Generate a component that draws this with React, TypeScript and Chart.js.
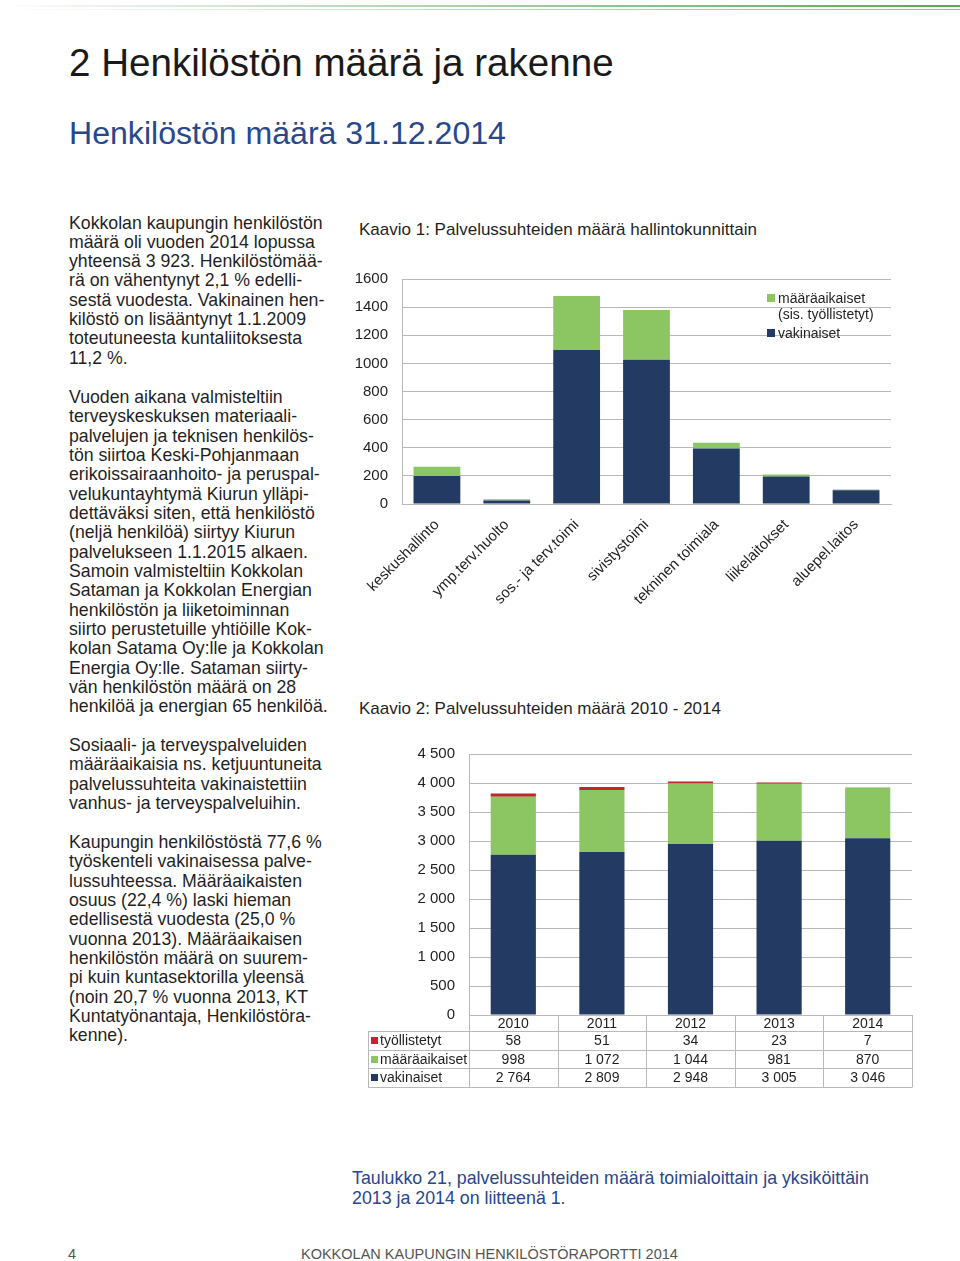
import React, { useEffect, useRef } from "react";
import { Chart, registerables } from "chart.js";

Chart.register(...registerables);

// ---------- Data ----------
const unitLabels = [
  "keskushallinto",
  "ymp.terv.huolto",
  "sos.- ja terv.toimi",
  "sivistystoimi",
  "tekninen toimiala",
  "liikelaitokset",
  "aluepel.laitos",
];
const unitFixedTerm = [65, 8, 385, 355, 40, 15, 5];
const unitPermanent = [200, 25, 1095, 1025, 395, 195, 98];
const unitAxisMax = 1600;
const unitAxisStep = 200;

const years = ["2010", "2011", "2012", "2013", "2014"];
const employed = [58, 51, 34, 23, 7];
const fixedTerm = [998, 1072, 1044, 981, 870];
const permanent = [2764, 2809, 2948, 3005, 3046];
const yearAxisMax = 4500;
const yearAxisStep = 500;

const seriesNames = {
  employed: "työllistetyt",
  fixedTerm: "määräaikaiset",
  fixedTermLegend1: "määräaikaiset",
  fixedTermLegend2: "(sis. työllistetyt)",
  permanent: "vakinaiset",
};

// ---------- Text ----------
const para1 = [
  "Kokkolan kaupungin henkilöstön",
  "määrä oli vuoden 2014 lopussa",
  "yhteensä 3 923. Henkilöstömää-",
  "rä on vähentynyt 2,1 % edelli-",
  "sestä vuodesta. Vakinainen hen-",
  "kilöstö on lisääntynyt 1.1.2009",
  "toteutuneesta kuntaliitoksesta",
  "11,2 %.",
];
const para2 = [
  "Vuoden aikana valmisteltiin",
  "terveyskeskuksen materiaali-",
  "palvelujen ja teknisen henkilös-",
  "tön siirtoa Keski-Pohjanmaan",
  "erikoissairaanhoito- ja peruspal-",
  "velukuntayhtymä Kiurun ylläpi-",
  "dettäväksi siten, että henkilöstö",
  "(neljä henkilöä) siirtyy Kiurun",
  "palvelukseen 1.1.2015 alkaen.",
  "Samoin valmisteltiin Kokkolan",
  "Sataman ja Kokkolan Energian",
  "henkilöstön ja liiketoiminnan",
  "siirto perustetuille yhtiöille Kok-",
  "kolan Satama Oy:lle ja Kokkolan",
  "Energia Oy:lle. Sataman siirty-",
  "vän henkilöstön määrä on 28",
  "henkilöä ja energian 65 henkilöä.",
];
const para3 = [
  "Sosiaali- ja terveyspalveluiden",
  "määräaikaisia ns. ketjuuntuneita",
  "palvelussuhteita vakinaistettiin",
  "vanhus- ja terveyspalveluihin.",
];
const para4 = [
  "Kaupungin henkilöstöstä 77,6 %",
  "työskenteli vakinaisessa palve-",
  "lussuhteessa. Määräaikaisten",
  "osuus (22,4 %) laski hieman",
  "edellisestä vuodesta (25,0 %",
  "vuonna 2013). Määräaikaisen",
  "henkilöstön määrä on suurem-",
  "pi kuin kuntasektorilla yleensä",
  "(noin 20,7 % vuonna 2013, KT",
  "Kuntatyönantaja, Henkilöstöra-",
  "kenne).",
];
const caption = [
  "Taulukko 21, palvelussuhteiden määrä toimialoittain ja yksiköittäin",
  "2013 ja 2014 on liitteenä 1.",
];

// ---------- Styles ----------
const FONT = '"Liberation Sans", Arial, Helvetica, sans-serif';
const NAVY = "#233a63";
const GREEN = "#8cc663";
const RED = "#c0272d";
const GRID = "#b9b9b9";
const TEXT = "#1f1f1f";
const BLUE = "#28478c";

const fmt = (v: number) => String(v).replace(/\B(?=(\d{3})+(?!\d))/g, " ");

function Lines(props: {
  top: number;
  left: number;
  lines: string[];
  size: number;
  lh: number;
  color?: string;
}) {
  return (
    <div
      style={{
        position: "absolute",
        top: props.top,
        left: props.left,
        fontSize: props.size,
        lineHeight: props.lh + "px",
        color: props.color || TEXT,
        whiteSpace: "pre",
      }}
    >
      {props.lines.map((l, i) => (
        <div key={i}>{l}</div>
      ))}
    </div>
  );
}

function UnitChart() {
  const ref = useRef<HTMLCanvasElement>(null);
  useEffect(() => {
    const chart = new Chart(ref.current!, {
      type: "bar",
      data: {
        labels: unitLabels,
        datasets: [
          {
            label: seriesNames.permanent,
            data: unitPermanent,
            backgroundColor: NAVY,
            barPercentage: 0.67,
            categoryPercentage: 1,
          },
          {
            label: seriesNames.fixedTerm,
            data: unitFixedTerm,
            backgroundColor: GREEN,
            barPercentage: 0.67,
            categoryPercentage: 1,
          },
        ],
      },
      options: {
        responsive: false,
        animation: false,
        layout: { padding: { top: 0, right: 9, left: 0, bottom: 0 } },
        plugins: { legend: { display: false }, tooltip: { enabled: false } },
        scales: {
          x: {
            stacked: true,
            grid: { display: false },
            border: { display: true, color: GRID },
            ticks: {
              minRotation: 45,
              maxRotation: 45,
              color: TEXT,
              padding: 4,
              font: { family: FONT, size: 15 },
              autoSkip: false,
            },
            afterFit: (s: any) => {
              s.height = 108;
            },
          },
          y: {
            stacked: true,
            min: 0,
            max: unitAxisMax,
            ticks: {
              stepSize: unitAxisStep,
              color: TEXT,
              padding: 14,
              font: { family: FONT, size: 15 },
              callback: (v: any) => String(v),
            },
            grid: { color: GRID, drawTicks: false },
            border: { display: true, color: GRID },
            afterFit: (s: any) => {
              s.width = 62;
            },
          },
        },
      },
    } as any);
    return () => chart.destroy();
  }, []);
  return (
    <canvas
      ref={ref}
      width={560}
      height={356}
      style={{ position: "absolute", left: 340, top: 256, width: 560, height: 356 }}
    />
  );
}

const tablePlugin = {
  id: "dataTable",
  afterDraw(chart: any) {
    const ctx = chart.ctx as CanvasRenderingContext2D;
    const a = chart.chartArea;
    const xs = chart.scales.x;
    const n = years.length;
    const cw = (a.right - a.left) / n;
    const tableLeft = 8;
    const rows = [a.bottom, a.bottom + 16, a.bottom + 34.5, a.bottom + 53, a.bottom + 71.5];
    ctx.save();
    ctx.strokeStyle = GRID;
    ctx.lineWidth = 1;
    ctx.beginPath();
    for (let r = 1; r < rows.length; r++) {
      const y = Math.round(rows[r]) + 0.5;
      ctx.moveTo(tableLeft, y);
      ctx.lineTo(a.right, y);
    }
    for (let i = 0; i <= n; i++) {
      const x = Math.round(a.left + i * cw) + 0.5;
      ctx.moveTo(x, a.bottom);
      ctx.lineTo(x, Math.round(rows[4]) + 0.5);
    }
    ctx.moveTo(tableLeft + 0.5, Math.round(rows[1]) + 0.5);
    ctx.lineTo(tableLeft + 0.5, Math.round(rows[4]) + 0.5);
    ctx.stroke();

    ctx.font = `14px ${FONT}`;
    ctx.fillStyle = TEXT;
    ctx.textBaseline = "middle";
    ctx.textAlign = "center";
    years.forEach((y, i) => ctx.fillText(y, xs.getPixelForValue(i), (rows[0] + rows[1]) / 2 + 1));

    const tableRows = [
      { label: seriesNames.employed, color: RED, data: employed },
      { label: seriesNames.fixedTerm, color: GREEN, data: fixedTerm },
      { label: seriesNames.permanent, color: NAVY, data: permanent },
    ];
    tableRows.forEach((row, r) => {
      const cy = (rows[r + 1] + rows[r + 2]) / 2 + 1;
      ctx.fillStyle = row.color;
      ctx.fillRect(tableLeft + 3, Math.round(cy - 4), 7, 7);
      ctx.fillStyle = TEXT;
      ctx.textAlign = "left";
      ctx.fillText(row.label, tableLeft + 12, cy);
      ctx.textAlign = "center";
      row.data.forEach((v, i) => ctx.fillText(fmt(v), xs.getPixelForValue(i), cy));
    });
    ctx.restore();
  },
};

function YearChart() {
  const ref = useRef<HTMLCanvasElement>(null);
  useEffect(() => {
    const chart = new Chart(ref.current!, {
      type: "bar",
      data: {
        labels: years,
        datasets: [
          {
            label: seriesNames.permanent,
            data: permanent,
            backgroundColor: NAVY,
            barPercentage: 0.51,
            categoryPercentage: 1,
          },
          {
            label: seriesNames.fixedTerm,
            data: fixedTerm,
            backgroundColor: GREEN,
            barPercentage: 0.51,
            categoryPercentage: 1,
          },
          {
            label: seriesNames.employed,
            data: employed,
            backgroundColor: RED,
            barPercentage: 0.51,
            categoryPercentage: 1,
          },
        ],
      },
      options: {
        responsive: false,
        animation: false,
        layout: { padding: { top: 0, right: 8, left: 0, bottom: 83 } },
        plugins: { legend: { display: false }, tooltip: { enabled: false } },
        scales: {
          x: { stacked: true, display: false },
          y: {
            stacked: true,
            min: 0,
            max: yearAxisMax,
            ticks: {
              stepSize: yearAxisStep,
              color: TEXT,
              padding: 14,
              font: { family: FONT, size: 15 },
              callback: (v: any) => fmt(Number(v)),
            },
            grid: { color: GRID, drawTicks: false },
            border: { display: true, color: GRID },
            afterFit: (s: any) => {
              s.width = 109;
            },
          },
        },
      },
      plugins: [tablePlugin],
    } as any);
    return () => chart.destroy();
  }, []);
  return (
    <canvas
      ref={ref}
      width={560}
      height={367}
      style={{ position: "absolute", left: 360, top: 731, width: 560, height: 367 }}
    />
  );
}

export default function App() {
  return (
    <div
      style={{
        position: "absolute",
        left: 0,
        top: 0,
        width: 960,
        height: 1261,
        background: "#fff",
        overflow: "hidden",
        fontFamily: FONT,
        color: TEXT,
      }}
    >
      <div
        style={{
          position: "absolute",
          left: 0,
          top: 5,
          width: 960,
          height: 2,
          background: "linear-gradient(to right, rgba(90,165,90,0) 0%, rgba(90,165,90,0.35) 30%, #5aa55a 100%)",
        }}
      />
      <div
        style={{
          position: "absolute",
          left: 0,
          top: 9,
          width: 960,
          height: 1,
          background: "linear-gradient(to right, rgba(120,180,120,0) 0%, rgba(120,180,120,0.5) 50%, #8cc08c 100%)",
        }}
      />

      <div style={{ position: "absolute", left: 69, top: 43.5, fontSize: 38.6, lineHeight: "38px", color: "#1a1a1a", whiteSpace: "pre" }}>
        2 Henkilöstön määrä ja rakenne
      </div>
      <div style={{ position: "absolute", left: 69, top: 117.4, fontSize: 32.1, lineHeight: "32px", color: BLUE, whiteSpace: "pre" }}>
        Henkilöstön määrä 31.12.2014
      </div>

      <Lines top={213.5} left={69} lines={para1} size={17.7} lh={19.33} />
      <Lines top={388} left={69} lines={para2} size={17.7} lh={19.33} />
      <Lines top={736} left={69} lines={para3} size={17.7} lh={19.33} />
      <Lines top={833} left={69} lines={para4} size={17.7} lh={19.33} />

      <div style={{ position: "absolute", left: 359, top: 220.5, fontSize: 17, lineHeight: "17px", whiteSpace: "pre" }}>
        Kaavio 1: Palvelussuhteiden määrä hallintokunnittain
      </div>
      <UnitChart />
      <div style={{ position: "absolute", left: 767, top: 290, fontSize: 14, lineHeight: "16px", whiteSpace: "pre" }}>
        <div style={{ position: "relative", paddingLeft: 11 }}>
          <span style={{ position: "absolute", left: 0, top: 4, width: 8, height: 8, background: GREEN }} />
          {seriesNames.fixedTermLegend1}
        </div>
        <div style={{ paddingLeft: 11 }}>{seriesNames.fixedTermLegend2}</div>
        <div style={{ position: "relative", paddingLeft: 11, marginTop: 3 }}>
          <span style={{ position: "absolute", left: 0, top: 4, width: 8, height: 8, background: NAVY }} />
          {seriesNames.permanent}
        </div>
      </div>

      <div style={{ position: "absolute", left: 359, top: 699.5, fontSize: 17, lineHeight: "17px", whiteSpace: "pre" }}>
        Kaavio 2: Palvelussuhteiden määrä 2010 - 2014
      </div>
      <YearChart />

      <Lines top={1169.3} left={352} lines={caption} size={17.8} lh={19.33} color={BLUE} />

      <div style={{ position: "absolute", left: 68, top: 1246, fontSize: 14.4, lineHeight: "16px", color: "#555", whiteSpace: "pre" }}>
        4
      </div>
      <div style={{ position: "absolute", left: 301, top: 1246, fontSize: 14.5, lineHeight: "16px", color: "#555", whiteSpace: "pre" }}>
        KOKKOLAN KAUPUNGIN HENKILÖSTÖRAPORTTI 2014
      </div>
    </div>
  );
}
